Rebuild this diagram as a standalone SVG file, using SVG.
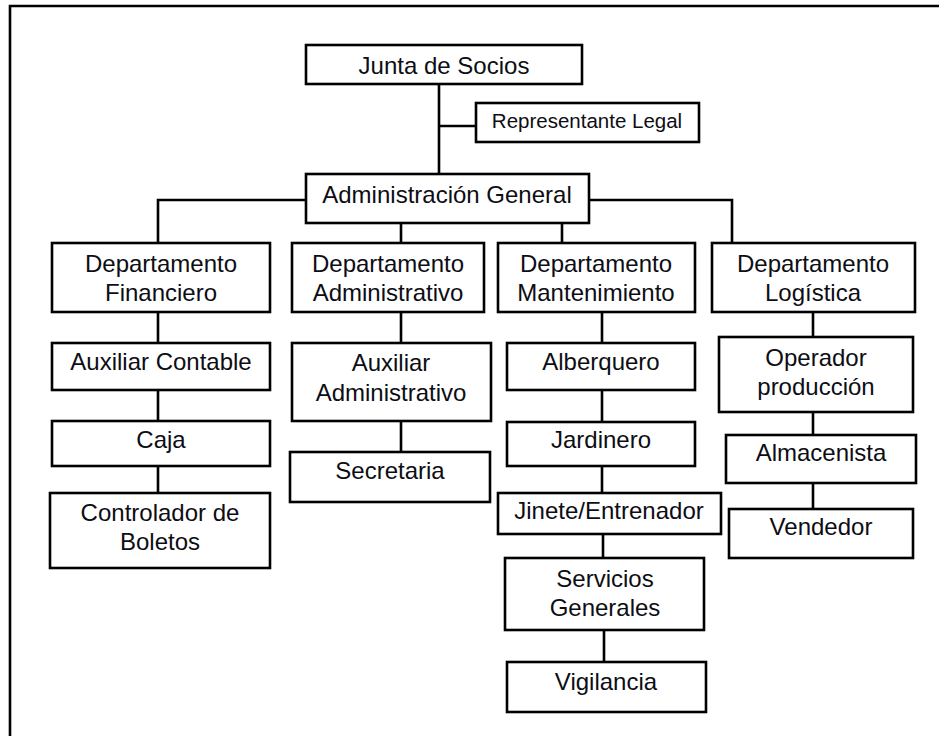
<svg xmlns="http://www.w3.org/2000/svg" width="939" height="736" viewBox="0 0 939 736">
<style>
.box{fill:#fff;stroke:#000;stroke-width:2.6}
.ln{fill:none;stroke:#000;stroke-width:2.6}
text{font-family:"Liberation Sans",Arial,sans-serif;font-size:24px;fill:#0d0d14;text-anchor:middle}
.sm{font-size:20.5px}
</style>
<rect width="939" height="736" fill="#fff"/>
<path class="ln" d="M10,740 V6 H945"/>
<g id="connectors">
<path class="ln" d="M439,84 V174 M439,126 H476"/>
<path class="ln" d="M306,200 H158 V243 M589,200 H732 V243 M401,223 V243 M562,223 V243"/>
<path class="ln" d="M158,312 V343 M158,390 V421 M158,466 V493"/>
<path class="ln" d="M401,312 V343 M401,421 V452"/>
<path class="ln" d="M602,312 V343 M602,390 V422 M602,466 V493 M603,534 V558 M604,630 V662"/>
<path class="ln" d="M813,312 V337 M813,412 V435 M813,483 V509"/>
</g>
<g id="junta"><rect class="box" x="306" y="45" width="276" height="39"/><text x="444" y="74">Junta de Socios</text></g>
<g id="representante"><rect class="box" x="476" y="103" width="223" height="39"/><text class="sm" x="587" y="128">Representante Legal</text></g>
<g id="admin-general"><rect class="box" x="306" y="174" width="283" height="49"/><text x="447" y="203">Administración General</text></g>
<g id="dept-financiero"><rect class="box" x="52" y="243" width="218" height="69"/><text x="161" y="272">Departamento</text><text x="161" y="301">Financiero</text></g>
<g id="dept-administrativo"><rect class="box" x="292" y="243" width="192" height="69"/><text x="388" y="272">Departamento</text><text x="388" y="301">Administrativo</text></g>
<g id="dept-mantenimiento"><rect class="box" x="498" y="243" width="197" height="69"/><text x="596" y="272">Departamento</text><text x="596" y="301">Mantenimiento</text></g>
<g id="dept-logistica"><rect class="box" x="712" y="243" width="203" height="69"/><text x="813" y="272">Departamento</text><text x="813" y="301">Logística</text></g>
<g id="aux-contable"><rect class="box" x="52" y="343" width="218" height="47"/><text x="161" y="370">Auxiliar Contable</text></g>
<g id="caja"><rect class="box" x="52" y="421" width="218" height="45"/><text x="161" y="448">Caja</text></g>
<g id="controlador"><rect class="box" x="50" y="493" width="220" height="75"/><text x="160" y="521">Controlador de</text><text x="160" y="550">Boletos</text></g>
<g id="aux-administrativo"><rect class="box" x="292" y="343" width="199" height="78"/><text x="391" y="371">Auxiliar</text><text x="391" y="401">Administrativo</text></g>
<g id="secretaria"><rect class="box" x="290" y="452" width="200" height="50"/><text x="390" y="479">Secretaria</text></g>
<g id="alberquero"><rect class="box" x="507" y="343" width="188" height="47"/><text x="601" y="370">Alberquero</text></g>
<g id="jardinero"><rect class="box" x="507" y="422" width="188" height="44"/><text x="601" y="448">Jardinero</text></g>
<g id="jinete"><rect class="box" x="498" y="493" width="223" height="41"/><text x="609" y="519">Jinete/Entrenador</text></g>
<g id="servicios"><rect class="box" x="505" y="558" width="199" height="72"/><text x="605" y="587">Servicios</text><text x="605" y="616">Generales</text></g>
<g id="vigilancia"><rect class="box" x="507" y="662" width="199" height="50"/><text x="606" y="690">Vigilancia</text></g>
<g id="operador"><rect class="box" x="719" y="337" width="194" height="75"/><text x="816" y="366">Operador</text><text x="816" y="395">producción</text></g>
<g id="almacenista"><rect class="box" x="726" y="435" width="190" height="48"/><text x="821" y="461">Almacenista</text></g>
<g id="vendedor"><rect class="box" x="729" y="509" width="184" height="49"/><text x="821" y="535">Vendedor</text></g>
</svg>
